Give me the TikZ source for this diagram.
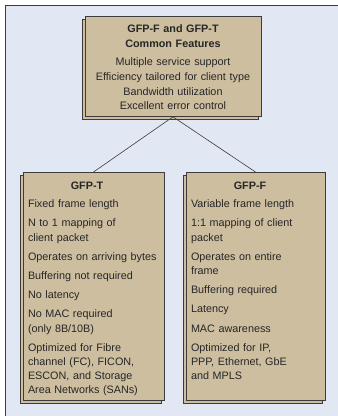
\documentclass[tikz,border=0pt]{standalone}
\usepackage{fontspec}
\setmainfont{Liberation Sans}
\usetikzlibrary{shadows}

\definecolor{panelblue}{RGB}{225,232,243}
\definecolor{boxtan}{RGB}{205,190,160}
\definecolor{boxline}{RGB}{60,60,60}

\newcommand{\gfphead}[1]{\makebox[118pt]{\bfseries #1}}

\tikzset{
  featbox/.style={draw=boxline, line width=0.8pt, fill=boxtan, text=black!85,
    copy shadow={shadow xshift=-3pt, shadow yshift=-3pt},
    inner xsep=5pt, inner ysep=5pt, anchor=north, align=left,
    font=\fontsize{10.8}{14.2}\selectfont},
  link/.style={draw=boxline, line width=0.6pt},
}

\begin{document}
\begin{tikzpicture}[x=1pt, y=-1pt]

\useasboundingbox (0,0) rectangle (338,416) ;
\fill [panelblue] (5,5) rectangle (338,416) ;
\draw [boxline, line width=1pt] (338,5) -- (5,5) -- (5,416) ;

\node [featbox, align=center, text width=166pt, text height=11pt, text depth=79pt,
  font=\fontsize{10.8}{14.7}\selectfont] (common) at (173,16)
  {{\bfseries GFP-F and GFP-T\\ Common Features}\\[4pt]
   Multiple service support\\ Efficiency tailored for client type\\
   Bandwidth utilization\\ Excellent error control} ;

\node [featbox, text width=131pt, text height=12pt, text depth=206pt] (gfpt) at (93.5,172)
  {\gfphead{GFP-T}\\[4pt]
   Fixed frame length\\[5pt]
   N to 1 mapping of\\ client packet\\[5pt]
   Operates on arriving bytes\\[5pt]
   Buffering not required\\[5pt]
   No latency\\[5pt]
   No MAC required\\ (only 8B/10B)\\[5pt]
   Optimized for Fibre\\ channel (FC), FICON,\\ ESCON, and Storage\\ Area Networks (SANs)} ;

\node [featbox, text width=129pt, text height=12pt, text depth=206pt] (gfpf) at (255.5,172)
  {\gfphead{GFP-F}\\[4pt]
   Variable frame length\\[5pt]
   1:1 mapping of client\\ packet\\[5pt]
   Operates on entire\\ frame\\[5pt]
   Buffering required\\[5pt]
   Latency\\[5pt]
   MAC awareness\\[5pt]
   Optimized for IP,\\ PPP, Ethernet, GbE\\ and MPLS} ;

\draw [link] (common.south) -- (gfpt.north) ;
\draw [link] (common.south) -- (gfpf.north) ;

\end{tikzpicture}
\end{document}
